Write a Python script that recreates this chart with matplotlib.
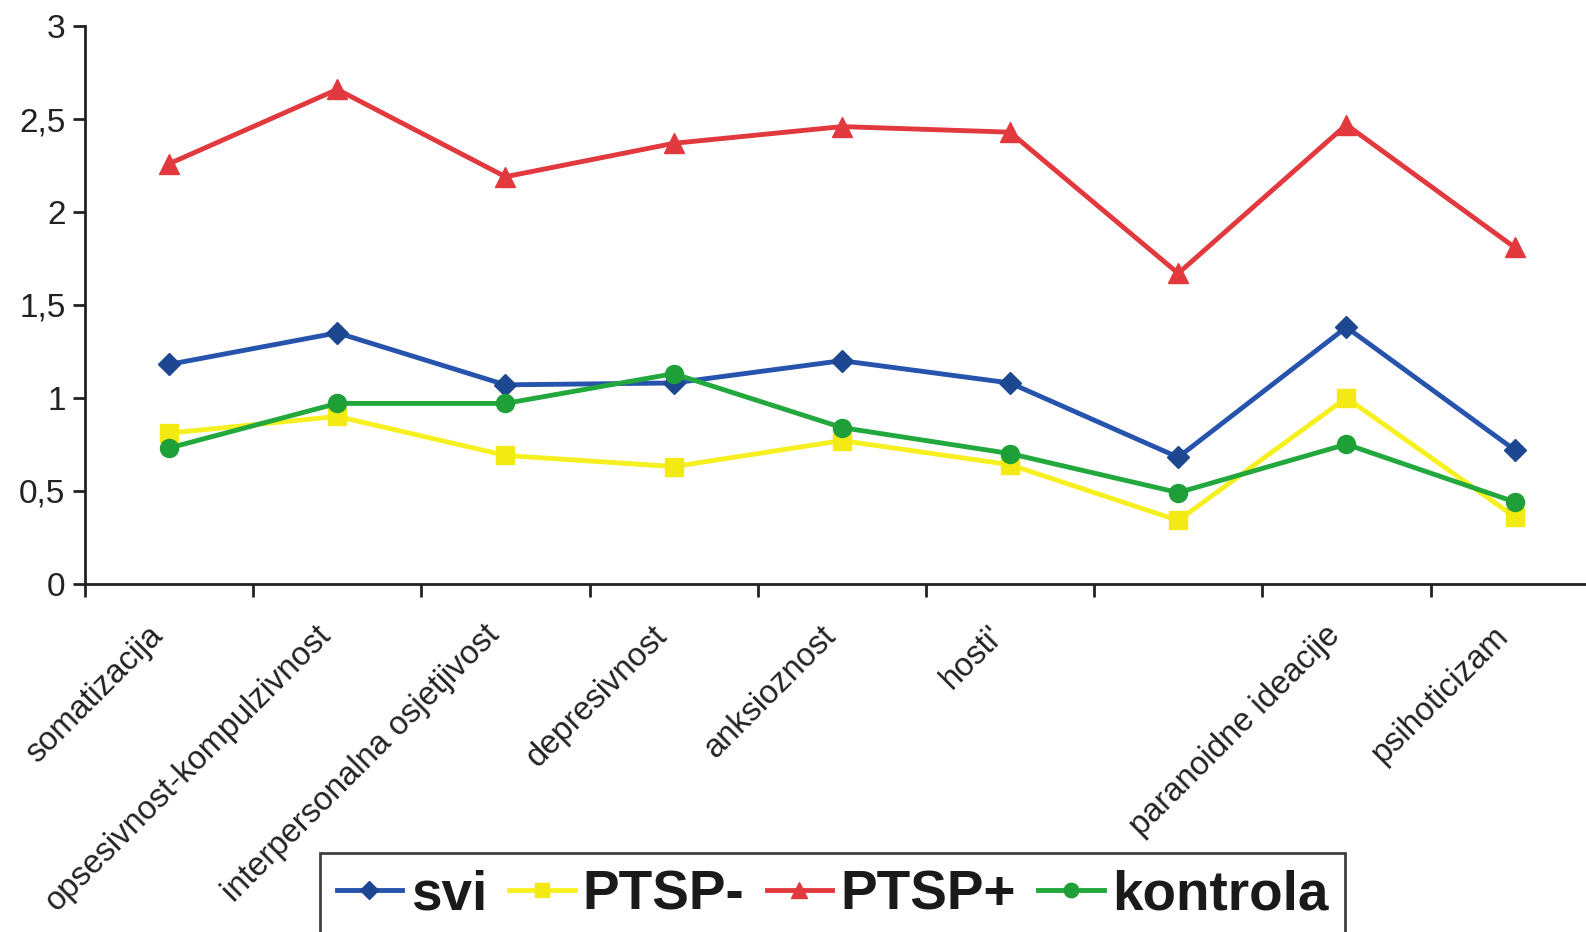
import numpy as np
import matplotlib.pyplot as plt
from matplotlib.ticker import FixedLocator, FuncFormatter

plt.rcParams['font.family'] = ['Liberation Sans', 'DejaVu Sans']

# SCL-90 subscale means per group
categories = ["somatizacija", "opsesivnost-kompulzivnost", "interpersonalna osjetjivost",
              "depresivnost", "anksioznost", "hosti'", "", "paranoidne ideacije", "psihoticizam"]
svi = [1.18, 1.35, 1.07, 1.08, 1.20, 1.08, 0.68, 1.38, 0.72]
ptsp_minus = [0.81, 0.90, 0.69, 0.63, 0.77, 0.64, 0.34, 1.00, 0.36]
ptsp_plus = [2.26, 2.66, 2.19, 2.37, 2.46, 2.43, 1.67, 2.47, 1.81]
kontrola = [0.73, 0.97, 0.97, 1.13, 0.84, 0.70, 0.49, 0.75, 0.44]

series = [
    ("svi", svi, "#2654ad", "#1d4791", "D", 11),
    ("PTSP-", ptsp_minus, "#f7f020", "#f2ea12", "s", 13),
    ("PTSP+", ptsp_plus, "#e1393e", "#e1393e", "^", 14),
    ("kontrola", kontrola, "#22a83c", "#1f9f38", "o", 13),
]

fig = plt.figure(figsize=(15.86, 9.32), dpi=100)
ax = fig.add_axes([0.0536, 0.3738, 0.9544, 0.598])

x = np.arange(len(categories))
handles = []
for name, vals, col, mcol, mk, ms in series:
    h, = ax.plot(x, vals, color=col, lw=3.5, marker=mk, markersize=ms,
                 markerfacecolor=mcol, markeredgecolor=mcol, label=name)
    handles.append(h)

ax.set_xlim(-0.5, len(categories) - 0.5)
ax.set_ylim(0, 3)
ax.set_yticks([0, 0.5, 1, 1.5, 2, 2.5, 3])
ax.yaxis.set_major_formatter(FuncFormatter(lambda v, p: f"{v:g}".replace(".", ",")))

# labels sit just left of the category centres, tick marks on the boundaries
ax.set_xticks(x - 0.065)
ax.set_xticklabels(categories, rotation=45, ha="right", va="center",
                   rotation_mode="anchor", fontsize=23.5, color="#222222")
ax.xaxis.set_minor_locator(FixedLocator(np.arange(-0.5, len(categories), 1.0)))
ax.tick_params(axis="x", which="major", length=0, pad=34)
ax.tick_params(axis="x", which="minor", length=9, width=2, color="#222222")
ax.tick_params(axis="y", length=9, width=2, color="#222222", labelsize=24,
               labelcolor="#222222", pad=5)

for s in ("top", "right"):
    ax.spines[s].set_visible(False)
for s in ("left", "bottom"):
    ax.spines[s].set_linewidth(2)
    ax.spines[s].set_color("#222222")

leg = fig.legend(handles=handles, loc="upper left", bbox_to_anchor=(0.2018, 0.0848),
                 bbox_transform=fig.transFigure, ncol=4, frameon=True, fancybox=False,
                 prop={"weight": "bold", "size": 39.5}, handlelength=1.2,
                 handletextpad=0.15, columnspacing=0.4, borderpad=0.3,
                 markerscale=0.8, borderaxespad=0)
leg.get_frame().set_edgecolor("#111111")
leg.get_frame().set_linewidth(2)
for t in leg.get_texts():
    t.set_color("#1a1a1a")

fig.savefig("out.png", dpi=100)
